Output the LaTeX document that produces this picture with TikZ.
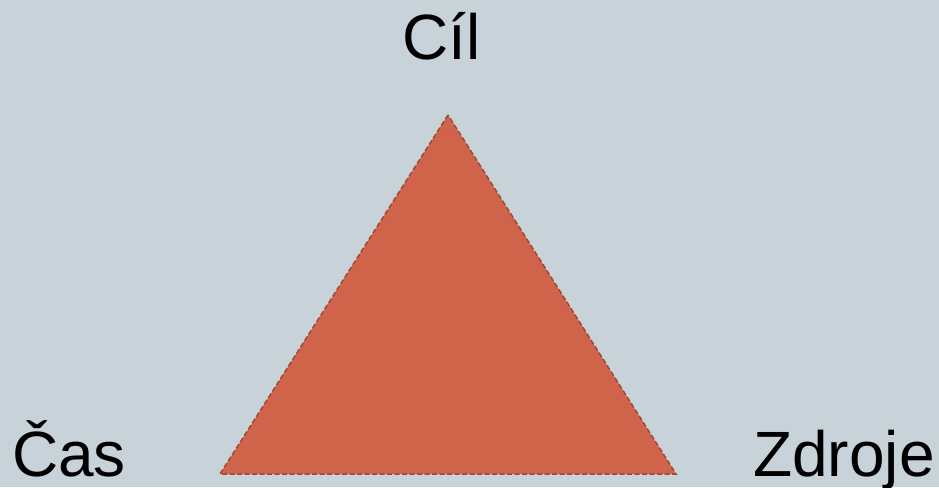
\documentclass[tikz,border=0pt]{standalone}
\usepackage{fontspec}
\setmainfont{Liberation Sans}
\begin{document}
\begin{tikzpicture}[x=1pt,y=1pt,
  lbl/.style={inner sep=0pt,font=\fontsize{64}{70}\selectfont,text=black},
  tri/.style={fill=triFill,draw=triEdge,dash pattern=on 5pt off 2.5pt,line width=1.5pt,line join=miter}]
\definecolor{bgc}{HTML}{C7D3D9}
\definecolor{triFill}{HTML}{D0644A}
\definecolor{triEdge}{HTML}{A04836}
\fill[bgc] (0,0) rectangle (939,487);
\useasboundingbox (0,0) rectangle (939,487);
\coordinate (apex) at (448,372);
\coordinate (bl) at (220,13);
\coordinate (br) at (676,13);
\draw[tri] (apex) -- (bl) -- (br) -- cycle;
\node[lbl,anchor=base west] (cil) at (402,427) {Cíl};
\node[lbl,anchor=base west] (cas) at (12,11) {Čas};
\node[lbl,anchor=base west] (zdroje) at (753,11) {Zdroje};
\end{tikzpicture}
\end{document}
